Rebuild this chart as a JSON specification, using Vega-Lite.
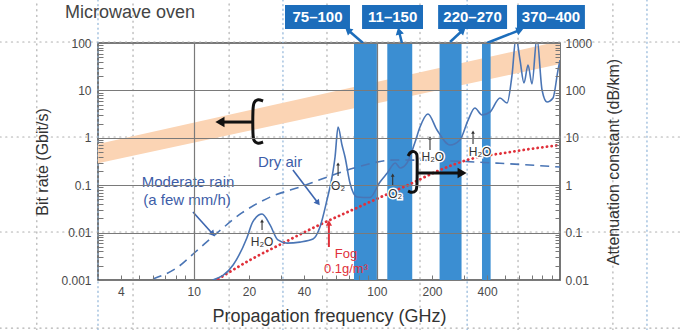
{
  "$schema": "https://vega.github.io/schema/vega-lite/v6.json",
  "width": 462,
  "height": 237,
  "autosize": "none",
  "padding": {"left": 98, "top": 43, "right": 121, "bottom": 50},
  "background": "white",
  "config": {
    "font": "Liberation Sans",
    "view": {"stroke": "#4a4a4a", "strokeWidth": 1.5},
    "axis": {"domain": false, "labelFont": "Liberation Sans", "titleFont": "Liberation Sans", "labelColor": "#4a4a4a", "titleColor": "#333333", "tickColor": "#777777", "titleFontWeight": "normal", "labelOverlap": false, "labelFlush": false}
  },
  "datasets": {
    "guides": [
      {"f": 0.875, "f2": 4580, "v": 105, "v2": 105, "c": "gray"},
      {"f": 0.875, "f2": 4580, "v": 1.04, "v2": 1.04, "c": "gray"},
      {"f": 0.875, "f2": 4580, "v": 0.0103, "v2": 0.0103, "c": "gray"},
      {"f": 0.875, "f2": 4580, "v": 0.000097, "v2": 0.000097, "c": "gray"},
      {"f": 1.39, "f2": 1.39, "v": 0.0000881, "v2": 807, "c": "gray"},
      {"f": 4.66, "f2": 4.66, "v": 0.0000881, "v2": 807, "c": "gray"},
      {"f": 15.6, "f2": 15.6, "v": 0.0000881, "v2": 807, "c": "gray"},
      {"f": 53.4, "f2": 53.4, "v": 0.0000881, "v2": 807, "c": "gray"},
      {"f": 172, "f2": 172, "v": 0.0000881, "v2": 807, "c": "gray"},
      {"f": 590, "f2": 590, "v": 0.0000881, "v2": 807, "c": "gray"},
      {"f": 1945, "f2": 1945, "v": 0.0000881, "v2": 807, "c": "gray"},
      {"f": 3, "f2": 3, "v": 0.0000881, "v2": 807, "c": "blue"},
      {"f": 30.7, "f2": 30.7, "v": 0.0000881, "v2": 807, "c": "blue"},
      {"f": 311, "f2": 311, "v": 0.0000881, "v2": 807, "c": "blue"},
      {"f": 2985, "f2": 2985, "v": 0.0000881, "v2": 807, "c": "blue"}
    ],
    "band": [{"f": 3, "lo": 0.29, "hi": 0.74}, {"f": 1000, "lo": 36, "hi": 110}],
    "bands": [{"f": 75, "f2": 100}, {"f": 114, "f2": 156}, {"f": 220, "f2": 290}, {"f": 375, "f2": 418}],
    "boxes": [{"f": 31.5, "f2": 71.3, "v": 197, "v2": 634}, {"f": 83, "f2": 178.6, "v": 197, "v2": 634}, {"f": 216, "f2": 514, "v": 197, "v2": 634}, {"f": 582, "f2": 1368, "v": 197, "v2": 634}],
    "boxtext": [{"f": 47.4, "v": 354, "label": "75–100"}, {"f": 122, "v": 354, "label": "11–150"}, {"f": 333, "v": 354, "label": "220–270"}, {"f": 893, "v": 354, "label": "370–400"}],
    "curves": [
      {"s": "dry", "f": 12.7, "att": 0.010}, {"s": "dry", "f": 16.4, "att": 0.0207}, {"s": "dry", "f": 19.5, "att": 0.077}, {"s": "dry", "f": 21.0, "att": 0.168}, {"s": "dry", "f": 23.6, "att": 0.247}, {"s": "dry", "f": 26.1, "att": 0.145}, {"s": "dry", "f": 28.8, "att": 0.070}, {"s": "dry", "f": 32.3, "att": 0.060}, {"s": "dry", "f": 38.0, "att": 0.063}, {"s": "dry", "f": 44.8, "att": 0.073}, {"s": "dry", "f": 48.9, "att": 0.131}, {"s": "dry", "f": 53.4, "att": 0.487}, {"s": "dry", "f": 56.9, "att": 1.49}, {"s": "dry", "f": 59.1, "att": 3.94}, {"s": "dry", "f": 61.4, "att": 16.9}, {"s": "dry", "f": 64.5, "att": 7.05}, {"s": "dry", "f": 67.0, "att": 3.94}, {"s": "dry", "f": 71.3, "att": 1.11}, {"s": "dry", "f": 77.9, "att": 0.564}, {"s": "dry", "f": 91.6, "att": 0.55}, {"s": "dry", "f": 104, "att": 1.17}, {"s": "dry", "f": 114, "att": 1.81}, {"s": "dry", "f": 126, "att": 2.94}, {"s": "dry", "f": 134, "att": 2.31}, {"s": "dry", "f": 146, "att": 2.94}, {"s": "dry", "f": 161, "att": 7.76}, {"s": "dry", "f": 172, "att": 16.9}, {"s": "dry", "f": 190, "att": 31.8}, {"s": "dry", "f": 213, "att": 14.6}, {"s": "dry", "f": 251, "att": 7.05}, {"s": "dry", "f": 284, "att": 8.99}, {"s": "dry", "f": 315, "att": 23.7}, {"s": "dry", "f": 343, "att": 42.5}, {"s": "dry", "f": 375, "att": 30.3}, {"s": "dry", "f": 415, "att": 35.0}, {"s": "dry", "f": 470, "att": 69.2}, {"s": "dry", "f": 514, "att": 54.2}, {"s": "dry", "f": 547, "att": 211}, {"s": "dry", "f": 575, "att": 1300}, {"s": "dry", "f": 605, "att": 437}, {"s": "dry", "f": 636, "att": 143}, {"s": "dry", "f": 669, "att": 344}, {"s": "dry", "f": 703, "att": 137}, {"s": "dry", "f": 748, "att": 1300}, {"s": "dry", "f": 798, "att": 102}, {"s": "dry", "f": 849, "att": 56.9}, {"s": "dry", "f": 916, "att": 69.2}, {"s": "dry", "f": 975, "att": 269}, {"s": "dry", "f": 1000, "att": 437},
      {"s": "rain", "f": 5.99, "att": 0.0105}, {"s": "rain", "f": 8.2, "att": 0.0188}, {"s": "rain", "f": 10.2, "att": 0.039}, {"s": "rain", "f": 13.6, "att": 0.103}, {"s": "rain", "f": 18.3, "att": 0.26}, {"s": "rain", "f": 26.1, "att": 0.56}, {"s": "rain", "f": 39.5, "att": 0.96}, {"s": "rain", "f": 50, "att": 1.35}, {"s": "rain", "f": 75, "att": 2.3}, {"s": "rain", "f": 125, "att": 3.4}, {"s": "rain", "f": 221, "att": 3.3}, {"s": "rain", "f": 470, "att": 2.9}, {"s": "rain", "f": 1000, "att": 2.42},
      {"s": "fog", "f": 13.6, "att": 0.0105}, {"s": "fog", "f": 20.3, "att": 0.0264}, {"s": "fog", "f": 30.7, "att": 0.060}, {"s": "fog", "f": 47.1, "att": 0.138}, {"s": "fog", "f": 71.3, "att": 0.286}, {"s": "fog", "f": 108, "att": 0.59}, {"s": "fog", "f": 152, "att": 1.06}, {"s": "fog", "f": 221, "att": 2.09}, {"s": "fog", "f": 311, "att": 3.40}, {"s": "fog", "f": 533, "att": 5.0}, {"s": "fog", "f": 1000, "att": 7.05}
    ],
    "arrows": [
      {"id": "dry", "kind": "blue", "o": 0, "f": 34.8, "v": 0.209}, {"id": "dry", "kind": "blue", "o": 1, "f": 47.7, "v": 0.0421},
      {"id": "rain", "kind": "blue", "o": 0, "f": 9.9, "v": 0.0272}, {"id": "rain", "kind": "blue", "o": 1, "f": 12.7, "v": 0.00934},
      {"id": "b1", "kind": "box", "o": 0, "f": 84.0, "v": 100}, {"id": "b1", "kind": "box", "o": 1, "f": 69.5, "v": 188},
      {"id": "b2", "kind": "box", "o": 0, "f": 137, "v": 100}, {"id": "b2", "kind": "box", "o": 1, "f": 132, "v": 179},
      {"id": "b3", "kind": "box", "o": 0, "f": 251, "v": 105}, {"id": "b3", "kind": "box", "o": 1, "f": 295, "v": 188},
      {"id": "b4", "kind": "box", "o": 0, "f": 399, "v": 100}, {"id": "b4", "kind": "box", "o": 1, "f": 605, "v": 188},
      {"id": "g1", "kind": "gas", "o": 0, "f": 23.6, "v": 0.01135}, {"id": "g1", "kind": "gas", "o": 1, "f": 23.6, "v": 0.01758},
      {"id": "g2", "kind": "gas", "o": 0, "f": 61.4, "v": 0.156}, {"id": "g2", "kind": "gas", "o": 1, "f": 61.4, "v": 0.280},
      {"id": "g3", "kind": "gas", "o": 0, "f": 122, "v": 0.0961}, {"id": "g3", "kind": "gas", "o": 1, "f": 122, "v": 0.164},
      {"id": "g4", "kind": "gas", "o": 0, "f": 195, "v": 0.553}, {"id": "g4", "kind": "gas", "o": 1, "f": 195, "v": 0.991},
      {"id": "g5", "kind": "gas", "o": 0, "f": 335, "v": 0.740}, {"id": "g5", "kind": "gas", "o": 1, "f": 335, "v": 1.32},
      {"id": "fog", "kind": "fog", "o": 0, "f": 54.7, "v": 0.00497}, {"id": "fog", "kind": "fog", "o": 1, "f": 54.7, "v": 0.01596},
      {"id": "L", "kind": "black", "o": 0, "f": 21.0, "v": 2.15}, {"id": "L", "kind": "black", "o": 1, "f": 14.6, "v": 2.15},
      {"id": "R", "kind": "black", "o": 0, "f": 166, "v": 0.181}, {"id": "R", "kind": "black", "o": 1, "f": 285, "v": 0.181}
    ],
    "heads": [
      {"kind": "blue", "f": 47.7, "v": 0.0421, "ang": 143}, {"kind": "blue", "f": 12.7, "v": 0.00934, "ang": 138},
      {"kind": "box", "f": 69.5, "v": 188, "ang": -49}, {"kind": "box", "f": 132, "v": 179, "ang": -14}, {"kind": "box", "f": 295, "v": 188, "ang": 47}, {"kind": "box", "f": 605, "v": 188, "ang": 68},
      {"kind": "gas", "f": 23.6, "v": 0.01758, "ang": 0}, {"kind": "gas", "f": 61.4, "v": 0.280, "ang": 0}, {"kind": "gas", "f": 122, "v": 0.164, "ang": 0}, {"kind": "gas", "f": 195, "v": 0.991, "ang": 0}, {"kind": "gas", "f": 335, "v": 1.32, "ang": 0},
      {"kind": "fog", "f": 54.7, "v": 0.01596, "ang": 0},
      {"kind": "black", "f": 13.9, "v": 2.15, "ang": -90}, {"kind": "black", "f": 292, "v": 0.181, "ang": 90}
    ],
    "brackets": [
      {"id": "L", "o": 0, "f": 23.9, "v": 5.97}, {"id": "L", "o": 1, "f": 22.4, "v": 6.59}, {"id": "L", "o": 2, "f": 21.3, "v": 5.69}, {"id": "L", "o": 3, "f": 21.0, "v": 4.47}, {"id": "L", "o": 4, "f": 21.0, "v": 1.04}, {"id": "L", "o": 5, "f": 21.3, "v": 0.855}, {"id": "L", "o": 6, "f": 22.4, "v": 0.740}, {"id": "L", "o": 7, "f": 23.9, "v": 0.815},
      {"id": "R", "o": 0, "f": 148, "v": 0.413}, {"id": "R", "o": 1, "f": 152, "v": 0.501}, {"id": "R", "o": 2, "f": 160, "v": 0.527}, {"id": "R", "o": 3, "f": 166, "v": 0.455}, {"id": "R", "o": 4, "f": 166, "v": 0.375}, {"id": "R", "o": 5, "f": 166, "v": 0.0916}, {"id": "R", "o": 6, "f": 164, "v": 0.0755}, {"id": "R", "o": 7, "f": 156, "v": 0.0684}, {"id": "R", "o": 8, "f": 148, "v": 0.0755}
    ],
    "notes": [
      {"kind": "blue", "f": 29.6, "v": 0.308, "text": "Dry air"},
      {"kind": "blue", "f": 9.31, "v": 0.117, "text": "Moderate rain"},
      {"kind": "blue", "f": 9.19, "v": 0.0488, "text": "(a few mm/h)"},
      {"kind": "gas", "f": 23.6, "v": 0.00634, "text": "H₂O"},
      {"kind": "gas", "f": 61.4, "v": 0.0961, "text": "O₂"},
      {"kind": "gas", "f": 126, "v": 0.0652, "text": "O₂"},
      {"kind": "gas", "f": 202, "v": 0.394, "text": "H₂O"},
      {"kind": "gas", "f": 366, "v": 0.501, "text": "H₂O"},
      {"kind": "fog", "f": 67.8, "v": 0.00356, "text": "Fog"},
      {"kind": "fog", "f": 67.8, "v": 0.00168, "text": "0.1g/m³"},
      {"kind": "top", "f": 1.98, "v": 440, "text": "Microwave oven"}
    ]
  },
  "encoding": {
    "x": {
      "field": "f", "type": "quantitative",
      "scale": {"type": "log", "domain": [3, 1000]},
      "axis": {
        "title": "Propagation frequency (GHz)",
        "values": [4, 5, 6, 7, 8, 9, 10, 20, 30, 40, 50, 60, 70, 80, 90, 100, 200, 300, 400, 500, 600, 700, 800, 900],
        "labelExpr": "indexof([4, 10, 20, 40, 100, 200, 400], datum.value) >= 0 ? format(datum.value, 'd') : ''",
        "grid": true, "gridColor": "#7a7a7a", "gridWidth": 1.2,
        "gridOpacity": {"condition": {"test": "datum.value == 10 || datum.value == 100", "value": 1}, "value": 0},
        "tickSize": -5, "labelPadding": 11, "labelFontSize": 12, "titleFontSize": 18, "titlePadding": 10, "zindex": 1
      }
    }
  },
  "resolve": {"scale": {"y": "independent"}},
  "layer": [
    {
      "data": {"name": "guides"},
      "transform": [{"filter": "datum.c == 'gray'"}],
      "mark": {"type": "rule", "color": "#b0b0b0", "strokeWidth": 1.2, "strokeDash": [1.2, 4.5], "strokeCap": "round"},
      "encoding": {
        "y": {"field": "v", "type": "quantitative", "scale": {"type": "log", "domain": [0.001, 100]}, "axis": null},
        "y2": {"field": "v2"},
        "x2": {"field": "f2"}
      }
    },
    {
      "data": {"name": "guides"},
      "transform": [{"filter": "datum.c == 'blue'"}],
      "mark": {"type": "rule", "color": "#8fb4d8", "strokeWidth": 1.2, "strokeDash": [1.2, 3.5], "strokeCap": "round"},
      "encoding": {
        "y": {"field": "v", "type": "quantitative", "scale": {"type": "log", "domain": [0.001, 100]}, "axis": null},
        "y2": {"field": "v2"},
        "x2": {"field": "f2"}
      }
    },
    {
      "data": {"name": "band"},
      "mark": {"type": "area", "color": "#fbd4b4", "opacity": 1, "clip": true},
      "encoding": {
        "y": {
          "field": "lo", "type": "quantitative",
          "scale": {"type": "log", "domain": [0.001, 100]},
          "axis": {
            "orient": "left", "title": "Bit rate (Gbit/s)",
            "values": [0.001, 0.002, 0.003, 0.004, 0.005, 0.006, 0.007, 0.008, 0.009, 0.01, 0.02, 0.03, 0.04, 0.05, 0.06, 0.07, 0.08, 0.09, 0.1, 0.2, 0.3, 0.4, 0.5, 0.6, 0.7, 0.8, 0.9, 1, 2, 3, 4, 5, 6, 7, 8, 9, 10, 20, 30, 40, 50, 60, 70, 80, 90, 100],
            "labelExpr": "abs(log(datum.value)/LN10 - round(log(datum.value)/LN10)) < 0.0001 ? format(datum.value, '~g') : ''",
            "grid": true, "gridColor": "#7a7a7a", "gridWidth": 1.2,
            "gridOpacity": {"condition": {"test": "abs(log(datum.value)/LN10 - round(log(datum.value)/LN10)) < 0.0001", "value": 1}, "value": 0},
            "tickSize": -5, "labelPadding": 12, "labelFontSize": 12, "titleFontSize": 16, "titlePadding": 10, "zindex": 1
          }
        },
        "y2": {"field": "hi"}
      }
    },
    {
      "data": {"name": "bands"},
      "mark": {"type": "rect", "color": "#3b8ed2"},
      "encoding": {"x2": {"field": "f2"}}
    },
    {
      "data": {"name": "curves"},
      "encoding": {
        "y": {
          "field": "att", "type": "quantitative",
          "scale": {"type": "log", "domain": [0.01, 1000]},
          "axis": {
            "orient": "right", "title": "Attenuation constant (dB/km)",
            "values": [0.01, 0.02, 0.03, 0.04, 0.05, 0.06, 0.07, 0.08, 0.09, 0.1, 0.2, 0.3, 0.4, 0.5, 0.6, 0.7, 0.8, 0.9, 1, 2, 3, 4, 5, 6, 7, 8, 9, 10, 20, 30, 40, 50, 60, 70, 80, 90, 100, 200, 300, 400, 500, 600, 700, 800, 900, 1000],
            "labelExpr": "abs(log(datum.value)/LN10 - round(log(datum.value)/LN10)) < 0.0001 ? format(datum.value, '~g') : ''",
            "grid": false, "tickSize": -5, "labelPadding": 10, "labelFontSize": 12, "titleFontSize": 16,
            "titleAngle": 270, "titleBaseline": "top", "titlePadding": 14, "zindex": 1
          }
        }
      },
      "layer": [
        {"transform": [{"filter": "datum.s == 'fog'"}], "mark": {"type": "line", "color": "#e0303a", "strokeWidth": 2.8, "strokeDash": [0.1, 4.6], "strokeCap": "round", "clip": true, "interpolate": "monotone"}},
        {"transform": [{"filter": "datum.s == 'rain'"}], "mark": {"type": "line", "color": "#4a75b5", "strokeWidth": 1.6, "strokeDash": [9, 6], "clip": true, "interpolate": "monotone"}},
        {"transform": [{"filter": "datum.s == 'dry'"}], "mark": {"type": "line", "color": "#4a75b5", "strokeWidth": 1.6, "clip": true, "interpolate": "monotone"}}
      ]
    },
    {
      "encoding": {
        "y": {"field": "v", "type": "quantitative", "scale": {"type": "log", "domain": [0.001, 100]}, "axis": null}
      },
      "layer": [
        {
          "data": {"name": "boxes"},
          "mark": {"type": "rect", "color": "#1c6dbb"},
          "encoding": {"y2": {"field": "v2"}, "x2": {"field": "f2"}}
        },
        {
          "data": {"name": "boxtext"},
          "mark": {"type": "text", "color": "white", "fontSize": 15, "fontWeight": "bold", "baseline": "middle"},
          "encoding": {"text": {"field": "label"}}
        },
        {"data": {"name": "arrows"}, "transform": [{"filter": "datum.kind == 'box'"}], "mark": {"type": "line", "color": "#1c6dbb", "strokeWidth": 2.5}, "encoding": {"detail": {"field": "id"}, "order": {"field": "o"}}},
        {"data": {"name": "arrows"}, "transform": [{"filter": "datum.kind == 'blue'"}], "mark": {"type": "line", "color": "#3d66b0", "strokeWidth": 1.6}, "encoding": {"detail": {"field": "id"}, "order": {"field": "o"}}},
        {"data": {"name": "arrows"}, "transform": [{"filter": "datum.kind == 'gas'"}], "mark": {"type": "line", "color": "#333333", "strokeWidth": 1.1}, "encoding": {"detail": {"field": "id"}, "order": {"field": "o"}}},
        {"data": {"name": "arrows"}, "transform": [{"filter": "datum.kind == 'fog'"}], "mark": {"type": "line", "color": "#e0303a", "strokeWidth": 2}, "encoding": {"detail": {"field": "id"}, "order": {"field": "o"}}},
        {"data": {"name": "arrows"}, "transform": [{"filter": "datum.kind == 'black'"}], "mark": {"type": "line", "color": "#111111", "strokeWidth": 3}, "encoding": {"detail": {"field": "id"}, "order": {"field": "o"}}},
        {"data": {"name": "brackets"}, "mark": {"type": "line", "color": "#111111", "strokeWidth": 3, "interpolate": "basis"}, "encoding": {"detail": {"field": "id"}, "order": {"field": "o"}}},
        {"data": {"name": "heads"}, "transform": [{"filter": "datum.kind == 'box'"}], "mark": {"type": "point", "shape": "triangle-up", "filled": true, "color": "#1c6dbb", "size": 70, "opacity": 1}, "encoding": {"angle": {"field": "ang", "type": "quantitative", "scale": null}}},
        {"data": {"name": "heads"}, "transform": [{"filter": "datum.kind == 'blue'"}], "mark": {"type": "point", "shape": "triangle-up", "filled": true, "color": "#3d66b0", "size": 45, "opacity": 1}, "encoding": {"angle": {"field": "ang", "type": "quantitative", "scale": null}}},
        {"data": {"name": "heads"}, "transform": [{"filter": "datum.kind == 'gas'"}], "mark": {"type": "point", "shape": "triangle-up", "filled": true, "color": "#333333", "size": 14, "opacity": 1}, "encoding": {"angle": {"field": "ang", "type": "quantitative", "scale": null}}},
        {"data": {"name": "heads"}, "transform": [{"filter": "datum.kind == 'fog'"}], "mark": {"type": "point", "shape": "triangle-up", "filled": true, "color": "#e0303a", "size": 40, "opacity": 1}, "encoding": {"angle": {"field": "ang", "type": "quantitative", "scale": null}}},
        {"data": {"name": "heads"}, "transform": [{"filter": "datum.kind == 'black'"}], "mark": {"type": "point", "shape": "triangle-up", "filled": true, "color": "#111111", "size": 110, "opacity": 1}, "encoding": {"angle": {"field": "ang", "type": "quantitative", "scale": null}}},
        {"data": {"name": "notes"}, "transform": [{"filter": "datum.kind == 'blue'"}], "mark": {"type": "text", "color": "#3d5da8", "fontSize": 15, "baseline": "middle"}, "encoding": {"text": {"field": "text"}}},
        {"data": {"name": "notes"}, "transform": [{"filter": "datum.kind == 'gas'"}], "mark": {"type": "text", "color": "white", "stroke": "white", "strokeWidth": 3, "fontSize": 12, "baseline": "middle"}, "encoding": {"text": {"field": "text"}}},
        {"data": {"name": "notes"}, "transform": [{"filter": "datum.kind == 'gas'"}], "mark": {"type": "text", "color": "#333333", "fontSize": 12, "baseline": "middle"}, "encoding": {"text": {"field": "text"}}},
        {"data": {"name": "notes"}, "transform": [{"filter": "datum.kind == 'fog'"}], "mark": {"type": "text", "color": "#e0303a", "fontSize": 13, "baseline": "middle"}, "encoding": {"text": {"field": "text"}}},
        {"data": {"name": "notes"}, "transform": [{"filter": "datum.kind == 'top'"}], "mark": {"type": "text", "color": "#444444", "fontSize": 18, "align": "left", "baseline": "middle"}, "encoding": {"text": {"field": "text"}}}
      ]
    }
  ]
}
